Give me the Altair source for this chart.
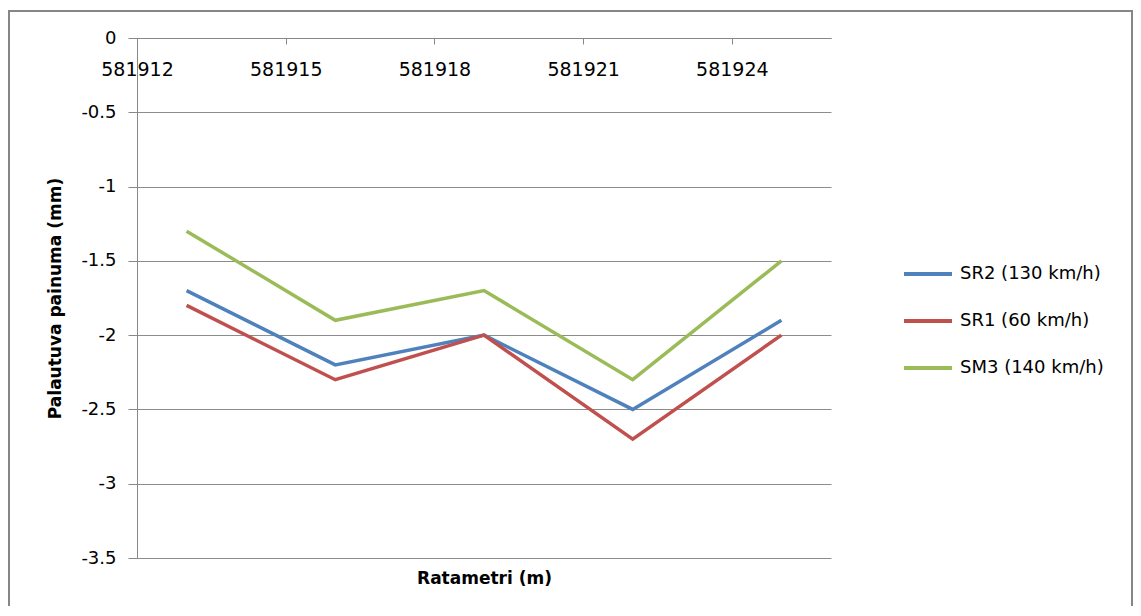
import altair as alt
import pandas as pd

x_vals = [581913, 581916, 581919, 581922, 581925]
series_names = ["SR2 (130 km/h)", "SR1 (60 km/h)", "SM3 (140 km/h)"]
sr2 = [-1.7, -2.2, -2.0, -2.5, -1.9]
sr1 = [-1.8, -2.3, -2.0, -2.7, -2.0]
sm3 = [-1.3, -1.9, -1.7, -2.3, -1.5]
colors = ["#4F81BD", "#C0504D", "#9BBB59"]
x_ticks = [581912, 581915, 581918, 581921, 581924]
y_ticks = [0, -0.5, -1, -1.5, -2, -2.5, -3, -3.5]

rows = []
for name, vals in zip(series_names, [sr2, sr1, sm3]):
    for xv, yv in zip(x_vals, vals):
        rows.append({"x": xv, "y": yv, "series": name, "order": series_names.index(name)})
df = pd.DataFrame(rows)

FONT = "DejaVu Sans"
W, H = 694, 520
xscale = alt.Scale(domain=[581912, 581926], nice=False, zero=False)
yscale = alt.Scale(domain=[-3.5, 0], nice=False, zero=False)

lines = alt.Chart(df).mark_line(strokeWidth=3.5).encode(
    x=alt.X("x:Q", scale=xscale,
            axis=alt.Axis(orient="bottom", offset=-H, values=x_ticks,
                          labelExpr="toString(datum.value)", title=None,
                          labelFlush=False, labelOverlap=False,
                          grid=False, tickSize=6, labelPadding=16,
                          domainColor="#888888", tickColor="#888888",
                          labelFont=FONT, labelFontSize=19, labelColor="#000000")),
    y=alt.Y("y:Q", scale=yscale,
            axis=alt.Axis(values=y_ticks, labelExpr="toString(datum.value)",
                          title="Palautuva painuma (mm)", titleX=-82, titleY=H / 2,
                          titleAngle=-90, titleAlign="center", titleBaseline="middle",
                          titleFont=FONT, titleFontSize=17, titleFontWeight="bold",
                          titleColor="#000000",
                          grid=True, gridColor="#8c8c8c", gridWidth=1,
                          tickSize=9, labelPadding=12, labelFlush=False,
                          domainColor="#888888", tickColor="#888888",
                          labelFont=FONT, labelFontSize=18, labelColor="#000000")),
    color=alt.Color("series:N", sort=series_names,
                    scale=alt.Scale(domain=series_names, range=colors),
                    legend=alt.Legend(title=None, orient="none", legendX=765, legendY=210,
                                      symbolType="stroke", symbolSize=2304,
                                      symbolStrokeWidth=4, rowPadding=12,
                                      labelFont=FONT, labelFontSize=18, labelColor="#000000",
                                      labelOffset=6)),
    order=alt.Order("order:Q"),
    detail="series:N",
)

title_layer = alt.Chart(df).mark_point(opacity=0).encode(
    x=alt.X("x:Q", scale=xscale,
            axis=alt.Axis(orient="bottom", title="Ratametri (m)", labels=False, ticks=False,
                          domain=False, grid=False, titleFont=FONT, titleFontSize=17,
                          titleFontWeight="bold", titleColor="#000000",
                          titleY=20, titleBaseline="middle")),
    y=alt.value(0),
)

border_df = pd.DataFrame({"b": [1]})
border = alt.Chart(border_df).mark_rect(fill=None, stroke="#868686", strokeWidth=2).encode(
    x=alt.value(-128), x2=alt.value(995), y=alt.value(-27), y2=alt.value(600)
)

chart = alt.layer(border, lines, title_layer).resolve_axis(x="independent").properties(
    width=W, height=H,
    autosize=alt.AutoSizeParams(type="none"),
    padding={"left": 129, "top": 30, "right": 302, "bottom": 48},
).configure(background="white").configure_view(stroke=None)

chart.save("out.html", embed_options={"renderer": "svg", "actions": False})
